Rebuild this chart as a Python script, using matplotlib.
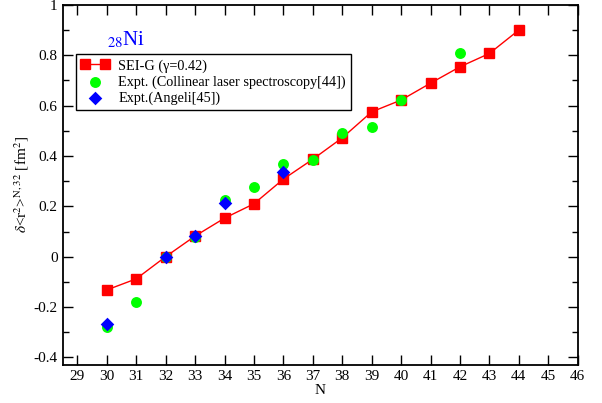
import matplotlib
matplotlib.use("Agg")
import matplotlib.pyplot as plt
from matplotlib.ticker import MultipleLocator, FixedLocator

plt.rcParams['font.family'] = ['Liberation Serif', 'DejaVu Serif']
plt.rcParams['mathtext.fontset'] = 'stix'

# SEI-G theory
n_sei = [30, 31, 32, 33, 34, 35, 36, 37, 38, 39, 40, 41, 42, 43, 44]
r_sei = [-0.132, -0.088, 0.0, 0.082, 0.153, 0.210, 0.308, 0.387, 0.472, 0.575, 0.622, 0.689, 0.754, 0.807, 0.900]

# Collinear laser spectroscopy
n_col = [30, 31, 32, 33, 34, 35, 36, 37, 38, 39, 40, 42]
r_col = [-0.278, -0.181, 0.0, 0.080, 0.225, 0.278, 0.368, 0.384, 0.492, 0.516, 0.622, 0.807]

# Angeli
n_ang = [30, 32, 33, 34, 36]
r_ang = [-0.267, 0.0, 0.082, 0.212, 0.338]

fig = plt.figure(figsize=(6.02, 4.03), dpi=100)
ax = fig.add_axes([0.104, 0.0943, 0.8557, 0.8937])

ax.plot(n_sei, r_sei, color='#ff0000', lw=1.0, marker='s', ms=6.8,
        mec='#ff0000', mfc='#ff0000', label='SEI-G (γ=0.42)', zorder=2)
ax.scatter(n_col, r_col, s=62, color='#00ff00', marker='o', linewidths=0,
           label='Expt. (Collinear laser spectroscopy[44])', zorder=3)
ax.scatter(n_ang, r_ang, s=48, color='#0000ff', marker='D', linewidths=0,
           label='Expt.(Angeli[45])', zorder=4)

ax.set_xlim(28.5, 46)
ax.set_ylim(-0.43, 1.0)
ax.xaxis.set_major_locator(FixedLocator(list(range(29, 47))))
yt = [-0.4, -0.2, 0, 0.2, 0.4, 0.6, 0.8, 1]
ax.set_yticks(yt)
ax.set_yticklabels(['-0.4', '-0.2', '0', '0.2', '0.4', '0.6', '0.8', '1'])
ax.yaxis.set_minor_locator(MultipleLocator(0.1))
ax.tick_params(which='both', direction='in', top=True, right=True, labelsize=11, width=1)
ax.tick_params(which='major', length=7)
ax.tick_params(which='minor', length=4)
for s in ax.spines.values():
    s.set_linewidth(1.3)

ax.set_xlabel('N', fontsize=11, labelpad=1)
ax.set_ylabel(r'$\delta$<r$^2$>$^{\rm N,32}$ [fm$^2$]', fontsize=11, labelpad=2)

ax.text(0.086, 0.888, r'$_{28}$Ni', transform=ax.transAxes, color='#0000ff',
        fontsize=15, ha='left', va='baseline')

leg = ax.legend(loc='upper left', bbox_to_anchor=(0.026, 0.863), borderaxespad=0,
                numpoints=2, scatterpoints=1, fontsize=10.3, fancybox=False,
                edgecolor='black', framealpha=1, handlelength=2.0,
                handletextpad=0.6, borderpad=0.35, labelspacing=0.2)
leg.get_frame().set_linewidth(1.0)

fig.savefig('out.png', dpi=100)
